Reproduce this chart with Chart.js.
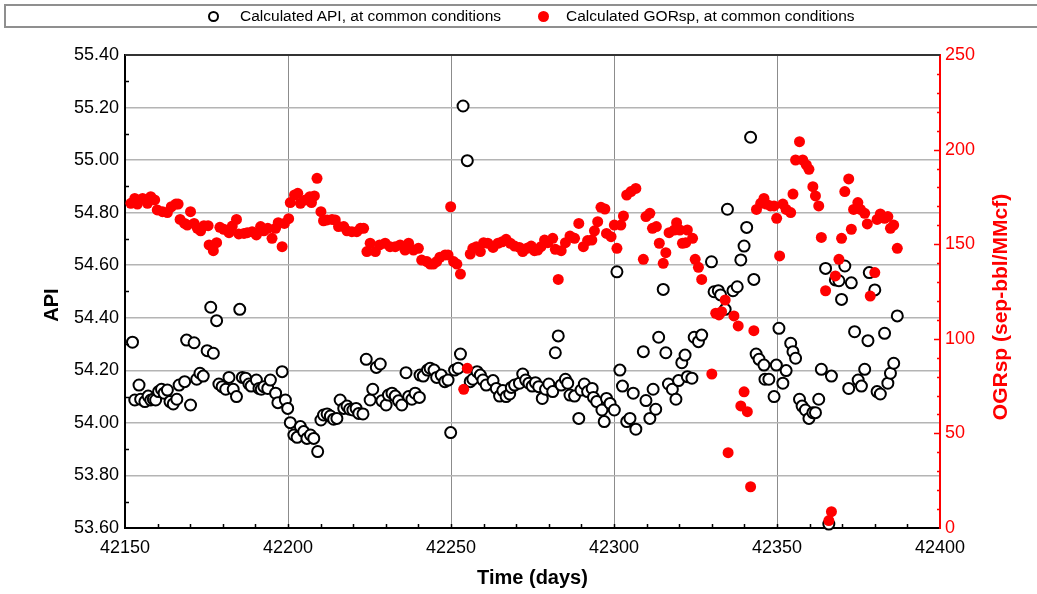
<!DOCTYPE html>
<html>
<head>
<meta charset="utf-8">
<script src="https://cdn.jsdelivr.net/npm/chart.js@4.4.0/dist/chart.umd.min.js"></script>
<style>
  html, body { margin: 0; padding: 0; background: #fff; overflow: hidden; }
  #wrap { position: relative; width: 1037px; height: 594px; overflow: hidden; font-family: 'Liberation Sans', Arial, sans-serif; }
  #chart { position: absolute; left: 0; top: 0; }
  #legendBox { position: absolute; left: 4px; top: 4px; width: 1050px; height: 20px; border: 2px solid #8f8f8f; }
  .mk { position: absolute; width: 11px; height: 11px; border-radius: 50%; box-sizing: border-box; }
  .mk.open { border: 2px solid #000; background: #fff; }
  .mk.dot { background: #ff0000; }
  .lbl { position: absolute; font-size: 15.5px; line-height: 18px; color: #000; white-space: nowrap; }
</style>
</head>
<body>
<div id="wrap">
  <canvas id="chart" width="1037" height="594"></canvas>
  <div id="legendBox"></div>
  <span class="mk open" style="left:208px; top:11px"></span>
  <span class="lbl" style="left:240px; top:7px">Calculated API, at common conditions</span>
  <span class="mk dot" style="left:538px; top:11px"></span>
  <span class="lbl" style="left:566px; top:7px">Calculated GORsp, at common conditions</span>
</div>
<script>
// --- DATA ---
const apiDays = [
  42152.3, 42153.0, 42154.3, 42154.8, 42156.1, 42157.1, 42157.9, 42158.7, 42159.4, 42160.3,
  42161.2, 42162.0, 42163.0, 42163.8, 42164.8, 42165.9, 42166.6, 42168.3, 42168.9, 42170.1,
  42171.2, 42172.0, 42173.0, 42174.0, 42175.2, 42176.3, 42177.1, 42178.1, 42178.8, 42179.8,
  42180.9, 42181.9, 42183.2, 42184.2, 42185.2, 42186.0, 42187.0, 42188.0, 42188.7, 42190.3,
  42191.1, 42191.8, 42192.6, 42193.8, 42194.6, 42196.2, 42196.9, 42198.2, 42199.2, 42199.9,
  42200.7, 42201.8, 42202.8, 42203.8, 42204.8, 42205.8, 42206.9, 42207.9, 42209.1, 42210.1,
  42210.9, 42212.0, 42213.0, 42214.0, 42215.0, 42216.0, 42217.1, 42218.1, 42218.9, 42219.9,
  42220.9, 42221.7, 42223.0, 42224.0, 42225.2, 42226.0, 42227.1, 42228.3, 42228.8, 42230.1,
  42230.8, 42231.9, 42232.9, 42233.9, 42234.9, 42236.2, 42237.0, 42238.0, 42239.0, 42240.3,
  42240.5, 42241.5, 42242.8, 42243.6, 42244.8, 42245.6, 42247.0, 42248.1, 42249.1, 42249.9,
  42251.1, 42252.2, 42252.9, 42253.7, 42255.0, 42255.9, 42256.7, 42258.0, 42259.0, 42259.8,
  42260.8, 42262.9, 42263.9, 42264.9, 42265.9, 42266.9, 42268.0, 42268.5, 42269.5, 42271.0,
  42272.0, 42272.9, 42273.9, 42274.9, 42275.9, 42276.9, 42278.0, 42279.0, 42280.0, 42281.2,
  42282.0, 42282.9, 42283.8, 42285.1, 42285.8, 42286.5, 42287.9, 42289.2, 42289.9, 42290.9,
  42291.9, 42293.3, 42293.7, 42294.7, 42296.3, 42297.0, 42297.7, 42298.8, 42300.1, 42300.9,
  42301.8, 42302.6, 42303.9, 42304.9, 42305.9, 42306.7, 42309.0, 42309.8, 42311.0, 42312.0,
  42312.8, 42313.7, 42315.1, 42315.9, 42316.7, 42317.9, 42319.0, 42319.8, 42320.8, 42321.8,
  42322.5, 42323.9, 42324.6, 42325.9, 42326.9, 42329.9, 42330.7, 42332.0, 42332.7, 42334.1,
  42334.8, 42336.5, 42337.8, 42338.9, 42339.9, 42340.7, 42341.9, 42342.9, 42343.6, 42344.5,
  42346.0, 42346.3, 42347.5, 42349.1, 42349.8, 42350.6, 42351.8, 42352.8, 42354.2, 42354.9,
  42355.7, 42356.9, 42357.7, 42358.7, 42359.8, 42361.0, 42361.8, 42362.8, 42363.6, 42364.9,
  42365.9, 42366.7, 42367.9, 42369.0, 42369.8, 42370.8, 42372.0, 42372.8, 42373.8, 42374.9,
  42375.9, 42376.9, 42377.9, 42378.3, 42380.0, 42380.7, 42381.7, 42383.0, 42384.0, 42384.8,
  42385.8, 42386.9
];
const apiValues = [
  54.307, 54.087, 54.144, 54.090, 54.081, 54.102, 54.087, 54.090, 54.087, 54.119,
  54.128, 54.113, 54.125, 54.081, 54.072, 54.090, 54.144, 54.157, 54.315, 54.068,
  54.305, 54.166, 54.189, 54.178, 54.275, 54.440, 54.265, 54.389, 54.148, 54.138,
  54.128, 54.173, 54.128, 54.100, 54.432, 54.173, 54.170, 54.148, 54.140, 54.163,
  54.131, 54.128, 54.138, 54.131, 54.163, 54.113, 54.077, 54.195, 54.087, 54.055,
  54.001, 53.954, 53.945, 53.986, 53.967, 53.941, 53.954, 53.941, 53.891, 54.011,
  54.030, 54.034, 54.026, 54.014, 54.017, 54.087, 54.055, 54.064, 54.052, 54.049,
  54.055, 54.036, 54.034, 54.242, 54.087, 54.128, 54.211, 54.224, 54.084, 54.068,
  54.106, 54.113, 54.102, 54.084, 54.068, 54.191, 54.100, 54.090, 54.113, 54.097,
  54.182, 54.178, 54.201, 54.208, 54.201, 54.173, 54.182, 54.157, 54.163, 53.963,
  54.201, 54.208, 54.262, 55.206, 54.998, 54.157, 54.166, 54.195, 54.182, 54.163,
  54.144, 54.161, 54.131, 54.102, 54.123, 54.100, 54.110, 54.135, 54.144, 54.151,
  54.186, 54.163, 54.151, 54.140, 54.153, 54.138, 54.093, 54.128, 54.148, 54.119,
  54.267, 54.331, 54.144, 54.166, 54.151, 54.106, 54.102, 54.017, 54.125, 54.148,
  54.119, 54.131, 54.097, 54.081, 54.049, 54.005, 54.093, 54.074, 54.049, 54.575,
  54.201, 54.140, 54.005, 54.017, 54.113, 53.976, 54.271, 54.085, 54.017, 54.128,
  54.052, 54.326, 54.508, 54.267, 54.148, 54.128, 54.090, 54.161, 54.229, 54.258,
  54.176, 54.170, 54.326, 54.309, 54.334, 54.613, 54.499, 54.503, 54.487, 54.432,
  54.813, 54.503, 54.518, 54.620, 54.673, 54.744, 55.087, 54.546, 54.262, 54.242,
  54.220, 54.166, 54.166, 54.100, 54.220, 54.360, 54.151, 54.199, 54.303, 54.271,
  54.246, 54.090, 54.064, 54.049, 54.017, 54.039, 54.039, 54.090, 54.204, 54.588,
  53.615, 54.178, 54.544, 54.541, 54.470, 54.597, 54.131, 54.533, 54.347, 54.163,
  54.140, 54.204, 54.313, 54.572, 54.506, 54.119, 54.110, 54.341, 54.151, 54.189,
  54.227, 54.407
];

const gorDays = [
  42151.8, 42153.0, 42153.8, 42155.4, 42156.9, 42157.9, 42159.1, 42159.9, 42161.5, 42163.0,
  42164.2, 42165.6, 42166.3, 42166.9, 42168.3, 42169.1, 42170.1, 42171.2, 42172.2, 42173.2,
  42174.2, 42175.5, 42175.8, 42177.1, 42178.1, 42179.1, 42180.3, 42181.9, 42182.9, 42184.2,
  42184.9, 42186.5, 42187.5, 42189.0, 42190.3, 42191.6, 42192.6, 42193.8, 42195.1, 42196.2,
  42197.0, 42198.2, 42198.9, 42200.2, 42200.7, 42202.0, 42203.0, 42203.8, 42205.3, 42206.7,
  42207.2, 42208.1, 42208.9, 42210.1, 42210.9, 42212.0, 42213.5, 42214.5, 42215.5, 42217.1,
  42218.1, 42219.6, 42221.1, 42222.2, 42223.2, 42224.2, 42225.2, 42226.8, 42228.1, 42229.8,
  42231.3, 42232.9, 42234.4, 42235.9, 42237.0, 42238.5, 42240.0, 42241.0, 42242.6, 42243.6,
  42244.6, 42245.6, 42246.6, 42248.2, 42249.1, 42249.9, 42250.8, 42251.8, 42252.9, 42253.9,
  42255.0, 42255.9, 42256.7, 42257.8, 42259.0, 42260.0, 42261.3, 42262.9, 42264.4, 42265.7,
  42266.9, 42268.2, 42269.5, 42271.0, 42272.0, 42273.3, 42274.6, 42275.6, 42276.6, 42277.6,
  42278.7, 42279.7, 42281.2, 42282.0, 42282.9, 42283.8, 42285.1, 42286.5, 42287.9, 42289.2,
  42290.6, 42291.9, 42293.2, 42294.0, 42295.0, 42296.0, 42297.2, 42297.7, 42299.1, 42300.1,
  42300.9, 42302.1, 42302.9, 42303.9, 42305.2, 42306.7, 42309.0, 42309.8, 42311.0, 42311.8,
  42313.0, 42313.9, 42315.1, 42315.9, 42316.9, 42318.5, 42319.2, 42320.2, 42321.0, 42322.0,
  42322.5, 42324.1, 42324.9, 42325.9, 42326.9, 42330.0, 42331.2, 42332.2, 42333.0, 42334.1,
  42335.0, 42336.8, 42338.1, 42338.9, 42339.9, 42340.9, 42341.9, 42342.9, 42343.7, 42345.0,
  42346.0, 42346.7, 42348.0, 42349.1, 42349.9, 42350.8, 42351.8, 42352.8, 42354.2, 42354.9,
  42355.7, 42356.9, 42357.9, 42359.0, 42359.8, 42361.0, 42361.8, 42362.8, 42363.6, 42364.9,
  42365.9, 42366.7, 42367.9, 42369.0, 42369.8, 42370.8, 42372.0, 42372.8, 42373.5, 42374.8,
  42375.6, 42376.9, 42377.7, 42378.6, 42380.0, 42380.7, 42381.7, 42383.0, 42384.0, 42384.8,
  42385.8, 42386.9
];
const gorValues = [
  171.6, 174.2, 171.2, 174.2, 171.6, 175.1, 173.4, 168.1, 167.2, 166.7,
  169.8, 171.2, 171.2, 163.1, 161.0, 160.1, 167.2, 161.0, 158.4, 157.1,
  159.8, 159.8, 149.6, 146.6, 150.8, 158.9, 157.9, 156.1, 159.6, 163.1,
  155.4, 155.7, 156.1, 156.6, 154.9, 159.3, 157.1, 158.4, 153.1, 158.4,
  161.4, 148.7, 161.0, 163.5, 172.0, 176.0, 176.9, 171.6, 173.4, 175.1,
  172.0, 175.5, 184.8, 167.2, 162.4, 162.8, 163.1, 162.8, 159.3, 159.3,
  157.1, 156.6, 156.6, 158.4, 158.4, 146.1, 150.5, 146.1, 149.6, 150.5,
  148.7, 148.7, 149.6, 146.9, 150.5, 146.9, 147.8, 141.6, 140.8, 139.5,
  139.5, 140.8, 143.1, 144.3, 144.3, 169.8, 140.8, 139.5, 134.2, 73.3,
  84.4, 144.8, 147.8, 148.7, 146.1, 150.8, 150.5, 148.3, 150.5, 151.3,
  152.6, 150.5, 149.0, 148.3, 146.1, 147.8, 149.0, 146.6, 146.9, 148.7,
  152.2, 150.8, 153.1, 147.3, 131.4, 146.6, 150.8, 154.3, 153.1, 161.0,
  148.7, 151.9, 152.2, 157.1, 161.9, 169.5, 168.6, 155.7, 154.0, 160.1,
  147.8, 160.1, 164.9, 176.0, 177.8, 179.5, 142.0, 164.6, 166.3, 158.4,
  159.3, 150.5, 139.9, 145.5, 156.1, 157.5, 161.4, 157.5, 150.5, 150.8,
  157.5, 153.1, 142.0, 137.8, 131.4, 81.4, 113.5, 112.6, 114.3, 120.5,
  39.8, 112.1, 106.8, 64.5, 72.0, 61.5, 21.8, 104.3, 168.4, 171.6,
  174.2, 171.2, 170.2, 170.2, 163.7, 143.8, 171.2, 168.4, 166.7, 176.5,
  194.5, 204.2, 194.5, 191.9, 189.6, 180.4, 175.5, 170.2, 153.6, 125.4,
  3.9, 8.6, 133.2, 142.0, 153.1, 177.8, 184.5, 157.9, 168.4, 172.0,
  168.4, 166.3, 160.7, 122.6, 135.0, 163.1, 166.0, 163.7, 164.6, 158.4,
  160.1, 147.8
];

// axis ranges / tick steps
const xRange = [42150, 42400];
const apiRange = [53.6, 55.4];
const gorRange = [0, 250];

const FONT = "'Liberation Sans', Arial, sans-serif";
Chart.defaults.font.family = FONT;
Chart.defaults.color = '#000';

// minor ticks, top frame line and rotated y titles
const axisExtras = {
  id: 'axisExtras',
  afterDraw(chart) {
    const { ctx, chartArea: a, scales: { x, y, y1 } } = chart;
    ctx.save();
    ctx.strokeStyle = '#333';
    ctx.lineWidth = 2;
    ctx.beginPath();
    ctx.moveTo(a.left, a.top);
    ctx.lineTo(a.right, a.top);
    ctx.stroke();

    ctx.strokeStyle = '#000';
    ctx.lineWidth = 1.5;
    ctx.beginPath();
    for (let d = xRange[0] + 10; d < xRange[1]; d += 10) {
      const px = Math.round(x.getPixelForValue(d)) + 0.5;
      ctx.moveTo(px, a.bottom);
      ctx.lineTo(px, a.bottom - 4);
    }
    for (let v = 53.7; v < 55.4; v += 0.2) {
      const py = Math.round(y.getPixelForValue(v)) + 0.5;
      ctx.moveTo(a.left, py);
      ctx.lineTo(a.left + 4, py);
    }
    ctx.stroke();

    ctx.strokeStyle = '#ff0000';
    ctx.beginPath();
    for (let g = 10; g < 250; g += 10) {
      const py = Math.round(y1.getPixelForValue(g)) + 0.5;
      const len = g % 50 === 0 ? 6 : 3;
      ctx.moveTo(a.right, py);
      ctx.lineTo(a.right - len, py);
    }
    ctx.stroke();

    ctx.textAlign = 'center';
    ctx.textBaseline = 'middle';
    ctx.font = 'bold 20px ' + FONT;
    ctx.fillStyle = '#000';
    ctx.translate(52, 305);
    ctx.rotate(-Math.PI / 2);
    ctx.fillText('API', 0, 0);
    ctx.restore();

    ctx.save();
    ctx.textAlign = 'center';
    ctx.textBaseline = 'middle';
    ctx.font = 'bold 21px ' + FONT;
    ctx.fillStyle = '#ff0000';
    ctx.translate(1001, 307);
    ctx.rotate(-Math.PI / 2);
    ctx.fillText('OGRsp (sep-bbl/MMcf)', 0, 0);
    ctx.restore();
  }
};

const ctx = document.getElementById('chart').getContext('2d');
new Chart(ctx, {
  type: 'scatter',
  data: {
    datasets: [
      {
        label: 'Calculated API, at common conditions',
        data: apiDays.map((d, i) => ({ x: d, y: apiValues[i] })),
        yAxisID: 'y',
        order: 1,
        pointStyle: 'circle',
        pointRadius: 5.5,
        borderWidth: 2,
        borderColor: '#000',
        backgroundColor: '#fff',
        clip: false
      },
      {
        label: 'Calculated GORsp, at common conditions',
        data: gorDays.map((d, i) => ({ x: d, y: gorValues[i] })),
        yAxisID: 'y1',
        order: 0,
        pointStyle: 'circle',
        pointRadius: 5.5,
        borderWidth: 0,
        backgroundColor: '#ff0000',
        clip: false
      }
    ]
  },
  options: {
    responsive: false,
    animation: false,
    devicePixelRatio: 1,
    layout: { padding: { top: 55, left: 0, right: 0, bottom: 0 } },
    plugins: { legend: { display: false }, tooltip: { enabled: false } },
    scales: {
      x: {
        type: 'linear', min: xRange[0], max: xRange[1],
        ticks: { stepSize: 50, padding: 9, maxRotation: 0, font: { size: 18 }, color: '#000',
                 callback: v => String(v) },
        grid: { color: '#8c8c8c', lineWidth: 1, drawTicks: false },
        border: { color: '#000', width: 2 },
        title: { display: true, text: 'Time (days)', color: '#000',
                 font: { size: 20, weight: 'bold' }, padding: { top: 0, bottom: 4 } },
        afterFit: s => { s.height = 66; }
      },
      y: {
        position: 'left', min: apiRange[0], max: apiRange[1],
        ticks: { stepSize: 0.2, padding: 6, font: { size: 18 }, color: '#000',
                 callback: v => v.toFixed(2) },
        grid: { color: '#b4b4b4', lineWidth: 1.5, drawTicks: false },
        border: { color: '#000', width: 2 },
        afterFit: s => { s.width = 125; }
      },
      y1: {
        position: 'right', min: gorRange[0], max: gorRange[1],
        ticks: { stepSize: 50, padding: 5, font: { size: 18 }, color: '#ff0000' },
        grid: { display: false, drawTicks: false },
        border: { color: '#ff0000', width: 2 },
        afterFit: s => { s.width = 97; }
      }
    }
  },
  plugins: [axisExtras]
});
</script>
</body>
</html>
